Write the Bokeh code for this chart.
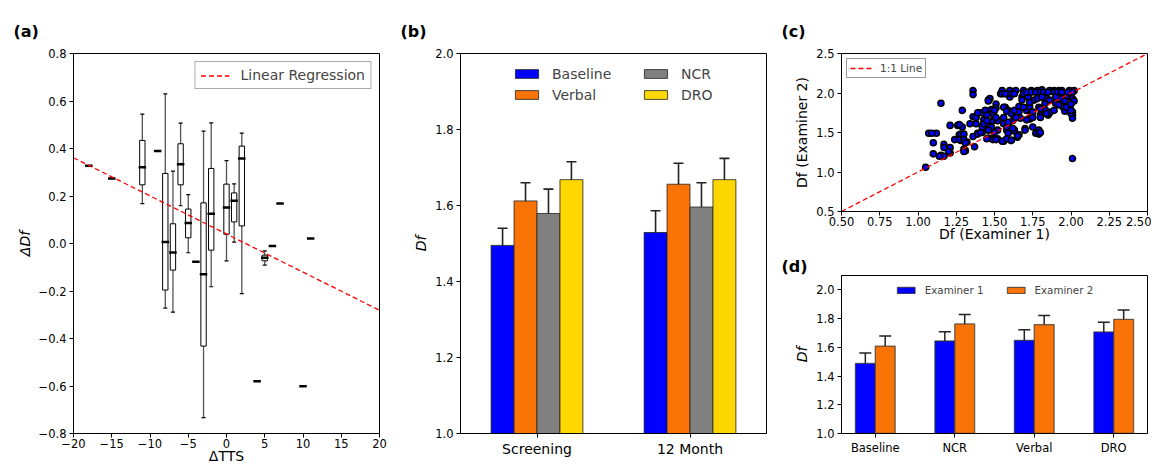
import numpy as np
from bokeh.plotting import figure
from bokeh.layouts import row, column
from bokeh.models import (FixedTicker, CustomJSTickFormatter, Range1d, Legend, LegendItem,
                          Whisker, TeeHead, ColumnDataSource)
from bokeh.embed import file_html
from bokeh.resources import INLINE

FONT = "DejaVu Sans"

# ---------------- Panel (a): boxplots of change in D_f vs change in TTS
box_x = [-11, -8, -7, -6, -5, -3, -2, 0, 1, 2, 5]
box_lo = [0.168, -0.272, -0.289, 0.159, -0.039, -0.733, -0.182, -0.073, 0.006, -0.211, -0.091]
box_q1 = [0.247, -0.196, -0.112, 0.247, 0.024, -0.432, -0.028, 0.039, 0.091, 0.074, -0.073]
box_med = [0.321, 0.006, -0.038, 0.334, 0.086, -0.129, 0.125, 0.152, 0.180, 0.358, -0.060]
box_q3 = [0.434, 0.295, 0.083, 0.420, 0.145, 0.171, 0.316, 0.250, 0.213, 0.410, -0.049]
box_hi = [0.545, 0.630, 0.305, 0.507, 0.206, 0.473, 0.508, 0.349, 0.251, 0.465, -0.031]
single_x = [-18, -15, -9, -4, 4, 6, 7, 10, 11]
single_val = [0.327, 0.274, 0.390, -0.077, -0.580, -0.011, 0.168, -0.601, 0.021]
reg_slope = -0.01605
reg_intercept = 0.040
a_xlim = (-20, 20)
a_ylim = (-0.8, 0.8)
a_xticks = [-20, -15, -10, -5, 0, 5, 10, 15, 20]
a_yticks = [-0.8, -0.6, -0.4, -0.2, 0.0, 0.2, 0.4, 0.6, 0.8]

# ---------------- Panel (b): group means
b_groups = ["Screening", "12 Month"]
b_conditions = ["Baseline", "Verbal", "NCR", "DRO"]
b_colors = ["#0000ff", "#f97306", "#808080", "#ffd700"]
b_baseline = [1.495, 1.529]
b_verbal = [1.612, 1.656]
b_ncr = [1.579, 1.596]
b_dro = [1.668, 1.668]
b_baseline_err = [0.045, 0.057]
b_verbal_err = [0.048, 0.055]
b_ncr_err = [0.064, 0.064]
b_dro_err = [0.047, 0.056]
b_yticks = [1.0, 1.2, 1.4, 1.6, 1.8, 2.0]

# ---------------- Panel (c): examiner agreement
c_exam1 = [1.05, 1.07, 1.12, 1.10, 1.10, 1.15, 1.17, 1.17, 1.15, 1.17, 1.21, 1.21, 1.21, 1.24, 1.26,
           1.27, 1.29, 1.29, 1.28, 1.28, 1.30, 1.31, 1.32, 1.34, 1.36, 1.36, 1.36, 1.37, 1.36, 1.38,
           1.39, 1.40, 1.42, 1.42, 1.43, 1.43, 1.44, 1.45, 1.46, 1.47, 1.46, 1.46, 1.48, 1.48, 1.49,
           1.49, 1.50, 1.51, 1.51, 1.52, 1.52, 1.52, 1.54, 1.55, 1.56, 1.56, 1.57, 1.58, 1.59, 1.59,
           1.59, 1.60, 1.60, 1.61, 1.62, 1.62, 1.63, 1.64, 1.64, 1.65, 1.66, 1.66, 1.66, 1.67, 1.68,
           1.69, 1.69, 1.70, 1.71, 1.72, 1.73, 1.73, 1.74, 1.74, 1.76, 1.77, 1.78, 1.79, 1.79, 1.80,
           1.81, 1.81, 1.83, 1.83, 1.84, 1.85, 1.86, 1.86, 1.89, 1.90, 1.91, 1.92, 1.93, 1.94, 1.95,
           1.96, 1.97, 1.97, 1.99, 2.00, 2.01, 2.01, 2.01, 2.01, 2.01, 2.02, 2.02,
           1.09, 1.14, 1.20, 1.27, 1.28, 1.30, 1.27, 1.30, 1.31, 1.30, 1.38, 1.39, 1.39, 1.41, 1.42,
           1.43, 1.45, 1.46, 1.49, 1.50, 1.51, 1.45, 1.49, 1.51, 1.46, 1.50, 1.55, 1.57, 1.61, 1.63,
           1.56, 1.58, 1.61, 1.63, 1.64, 1.55, 1.58, 1.61, 1.63, 1.65, 1.56, 1.58, 1.59, 1.62, 1.71,
           1.74, 1.77, 1.80, 1.82, 1.85, 1.89, 1.91, 1.94, 1.98, 2.01, 1.68, 1.73, 1.78, 1.81, 1.86,
           1.90, 1.92, 1.96, 2.00, 1.69, 1.75, 1.80, 1.86, 1.89, 1.71, 1.75, 1.80, 1.84, 1.70, 1.75,
           1.79, 1.80, 2.00, 2.00]
c_exam2 = [1.06, 1.49, 1.49, 1.37, 1.23, 1.87, 1.35, 1.31, 1.21, 1.20, 1.59, 1.31, 1.24, 1.41, 1.59,
           1.47, 1.78, 1.57, 1.46, 1.40, 1.29, 1.27, 1.38, 1.61, 1.70, 2.03, 1.98, 1.32, 1.45, 1.61,
           1.49, 1.75, 1.75, 1.50, 1.66, 1.57, 1.78, 1.72, 1.91, 1.93, 1.61, 1.43, 1.79, 1.57, 1.65,
           1.43, 1.70, 1.86, 1.81, 1.53, 1.65, 1.42, 1.99, 2.03, 1.69, 1.39, 1.82, 1.53, 1.49, 1.60,
           1.78, 2.03, 1.95, 1.40, 1.65, 1.75, 1.53, 2.03, 1.69, 1.44, 1.83, 1.76, 1.47, 1.68, 1.95,
           2.03, 1.99, 1.55, 1.78, 1.95, 1.67, 1.83, 2.03, 1.75, 1.91, 1.49, 2.03, 1.53, 1.82, 1.72,
           2.04, 1.95, 1.87, 1.79, 1.93, 1.72, 2.03, 1.75, 2.03, 1.87, 1.99, 2.03, 1.93, 2.03, 1.82,
           1.77, 1.82, 1.95, 2.03, 1.99, 1.93, 1.76, 1.72, 1.68, 1.17, 2.03, 1.90,
           1.49, 1.20, 1.26, 1.60, 1.48, 1.48, 1.41, 1.41, 1.37, 1.26, 1.69, 1.75, 1.48, 1.50, 1.57,
           1.61, 1.65, 1.90, 1.74, 1.78, 1.69, 1.42, 1.41, 1.41, 1.53, 1.50, 1.99, 1.99, 1.99, 1.99,
           1.82, 1.77, 1.74, 1.78, 1.69, 1.39, 1.42, 1.40, 1.52, 1.46, 1.61, 1.57, 1.63, 1.55, 2.01,
           2.01, 2.01, 2.01, 2.01, 2.01, 2.01, 2.01, 2.01, 2.01, 2.01, 1.91, 1.88, 1.93, 1.95, 1.91,
           1.95, 1.85, 1.90, 1.86, 1.82, 1.76, 1.80, 1.76, 1.78, 1.66, 1.69, 1.69, 1.74, 1.53, 1.57,
           1.48, 1.50, 1.74, 1.78]
c_lim = (0.5, 2.5)
c_xticks = [0.5, 0.75, 1.0, 1.25, 1.5, 1.75, 2.0, 2.25, 2.5]
c_yticks = [0.5, 1.0, 1.5, 2.0, 2.5]

# ---------------- Panel (d): examiner means by condition
d_categories = ["Baseline", "NCR", "Verbal", "DRO"]
d_examiners = ["Examiner 1", "Examiner 2"]
d_colors = ["#0000ff", "#f97306"]
d_exam1 = [1.488, 1.644, 1.649, 1.707]
d_exam1_err = [0.072, 0.065, 0.073, 0.067]
d_exam2 = [1.609, 1.763, 1.758, 1.795]
d_exam2_err = [0.069, 0.066, 0.063, 0.065]
d_yticks = [1.0, 1.2, 1.4, 1.6, 1.8, 2.0]


def fmt(dec):
    return CustomJSTickFormatter(code="return tick.toFixed(%d).replace('-', '\\u2212');" % dec)


def cat_fmt(labels):
    return CustomJSTickFormatter(args=dict(labels=labels), code="return labels[Math.round(tick)];")


def style(p, tick_size="11.5px", label_size="14px", title_standoff=20):
    p.background_fill_color = "white"
    p.border_fill_color = "white"
    p.outline_line_color = "black"
    p.outline_line_width = 1
    p.outline_line_alpha = 1
    p.xgrid.visible = False
    p.ygrid.visible = False
    for ax in p.axis:
        ax.axis_line_color = "black"
        ax.major_tick_line_color = "black"
        ax.major_tick_out = 4
        ax.major_tick_in = 0
        ax.minor_tick_line_color = None
        ax.major_label_text_font = FONT
        ax.major_label_text_font_size = tick_size
        ax.major_label_text_color = "black"
        ax.axis_label_text_font = FONT
        ax.axis_label_text_font_size = label_size
        ax.axis_label_text_font_style = "normal"
        ax.axis_label_text_color = "black"
        ax.major_label_standoff = 3
        ax.axis_label_standoff = 3
    p.title.text_font = FONT
    p.title.text_font_style = "bold"
    p.title.text_font_size = "16px"
    p.title.align = "left"
    p.title.offset = -60
    p.title.standoff = title_standoff
    p.title.text_color = "black"


# ================= (a)
pa = figure(width=400, height=466, x_range=Range1d(*a_xlim), y_range=Range1d(*a_ylim),
            output_backend="svg", toolbar_location=None, title="(a)",
            min_border_left=73, min_border_right=21, min_border_top=53, min_border_bottom=33)
style(pa, tick_size="11.5px", title_standoff=25)
pa.xaxis.ticker = FixedTicker(ticks=a_xticks)
pa.yaxis.ticker = FixedTicker(ticks=a_yticks)
pa.xaxis.formatter = fmt(0)
pa.yaxis.formatter = fmt(1)
pa.xaxis.axis_label = "ΔTTS"
pa.yaxis.axis_label = "ΔDf"
pa.yaxis.axis_label_text_font_style = "italic"
pa.xaxis.axis_label_standoff = -3
pa.xaxis.major_label_standoff = 1

pa.segment(x0=box_x, y0=box_lo, x1=box_x, y1=box_hi, line_color="#555555", line_width=1.3)
pa.vbar(x=box_x, bottom=box_q1, top=box_q3, width=0.7, fill_color="white",
        line_color="black", line_width=1)
pa.scatter(x=box_x, y=box_hi, marker="dash", size=4, line_color="black", line_width=1.2)
pa.scatter(x=box_x, y=box_lo, marker="dash", size=4, line_color="black", line_width=1.2)
pa.scatter(x=box_x, y=box_med, marker="dash", size=7.5, line_color="black", line_width=2.5)
pa.scatter(x=single_x, y=single_val, marker="dash", size=7.5, line_color="black", line_width=2.5)
reg_x = np.array(a_xlim, dtype=float)
pa.line(x=reg_x, y=reg_intercept + reg_slope * reg_x, line_color="red", line_width=1.3,
        line_dash="5 3", legend_label="Linear Regression")
pa.legend.location = "top_right"
pa.legend.margin = 8
pa.legend.padding = 5
pa.legend.spacing = 0
pa.legend.glyph_width = 29
pa.legend.glyph_height = 15
pa.legend.label_height = 15
pa.legend.label_standoff = 11
pa.legend.label_text_font = FONT
pa.legend.label_text_font_size = "14px"
pa.legend.border_line_color = "#555555"
pa.legend.border_line_width = 1
pa.legend.background_fill_color = "white"

# ================= (b)
pb = figure(width=370, height=466, x_range=Range1d(-0.5, 1.5), y_range=Range1d(1.0, 2.0),
            output_backend="svg", toolbar_location=None, title="(b)",
            min_border_left=60, min_border_right=4, min_border_top=53, min_border_bottom=33)
style(pb, tick_size="11.5px", title_standoff=25)
pb.xaxis.ticker = FixedTicker(ticks=list(range(len(b_groups))))
pb.xaxis.formatter = cat_fmt(b_groups)
pb.xaxis.major_label_text_font_size = "14px"
pb.yaxis.ticker = FixedTicker(ticks=b_yticks)
pb.yaxis.formatter = fmt(1)
pb.yaxis.axis_label = "Df"
pb.yaxis.axis_label_text_font_style = "italic"

b_vals = [b_baseline, b_verbal, b_ncr, b_dro]
b_errs = [b_baseline_err, b_verbal_err, b_ncr_err, b_dro_err]
b_w = 0.15
b_items = []
for j, (name, col, vals, errs) in enumerate(zip(b_conditions, b_colors, b_vals, b_errs)):
    xs = np.arange(len(b_groups)) + (j - 1.5) * b_w
    src = ColumnDataSource(dict(x=xs, top=vals, up=np.array(vals) + np.array(errs),
                                lo=np.array(vals) - np.array(errs)))
    r = pb.vbar(x="x", top="top", bottom=1.0, width=b_w, source=src, fill_color=col,
                line_color="#222222", line_alpha=0.8, line_width=1)
    pb.add_layout(Whisker(base="x", upper="up", lower="lo", source=src, line_color="#222222",
                          line_width=1.6,
                          upper_head=TeeHead(size=10, line_color="#222222", line_width=1.6),
                          lower_head=TeeHead(size=10, line_color="#222222", line_width=1.6)))
    b_items.append(LegendItem(label=name, renderers=[r]))


def mk_legend(items, loc):
    lg = Legend(items=items, location=loc, orientation="vertical", padding=0, margin=0,
                spacing=4, glyph_width=29, glyph_height=11, label_height=17, label_standoff=11,
                label_text_font=FONT, label_text_font_size="14px", border_line_alpha=0,
                background_fill_alpha=0)
    return lg


lg_h = 2 * 17 + 4
pb.add_layout(mk_legend([b_items[0], b_items[1]], (52, 380 - lg_h - 12)))
pb.add_layout(mk_legend([b_items[2], b_items[3]], (181, 380 - lg_h - 12)))

# ================= (c)
pc = figure(width=381, height=245, x_range=Range1d(*c_lim), y_range=Range1d(*c_lim),
            output_backend="svg", toolbar_location=None, title="(c)",
            min_border_left=71, min_border_right=4, min_border_top=53, min_border_bottom=34)
style(pc, tick_size="11.5px", title_standoff=25)
pc.xaxis.ticker = FixedTicker(ticks=c_xticks)
pc.yaxis.ticker = FixedTicker(ticks=c_yticks)
pc.xaxis.formatter = fmt(2)
pc.yaxis.formatter = fmt(1)
pc.xaxis.axis_label = "Df (Examiner 1)"
pc.yaxis.axis_label = "Df (Examiner 2)"
pc.xaxis.axis_label_standoff = -3
pc.xaxis.major_label_standoff = 1
pc.scatter(x=c_exam1, y=c_exam2, size=6, fill_color="#0000ff", line_color="black",
           line_width=1.6)
one = np.array(c_lim, dtype=float)
pc.line(x=one, y=one, line_color="red", line_width=1.3, line_dash="5 3",
        legend_label="1:1 Line")
pc.legend.location = "top_left"
pc.legend.margin = 5
pc.legend.padding = 3
pc.legend.spacing = 0
pc.legend.glyph_width = 22
pc.legend.glyph_height = 12
pc.legend.label_height = 12
pc.legend.label_standoff = 8
pc.legend.label_text_font = FONT
pc.legend.label_text_font_size = "10.5px"
pc.legend.border_line_color = "#333333"
pc.legend.border_line_width = 1
pc.legend.background_fill_color = "white"

# ================= (d)
pd = figure(width=381, height=221, x_range=Range1d(-0.425, 3.425), y_range=Range1d(1.0, 2.1),
            output_backend="svg", toolbar_location=None, title="(d)",
            min_border_left=71, min_border_right=4, min_border_top=30, min_border_bottom=33)
style(pd, tick_size="11.5px", title_standoff=0)
pd.xaxis.ticker = FixedTicker(ticks=list(range(len(d_categories))))
pd.xaxis.formatter = cat_fmt(d_categories)
pd.yaxis.ticker = FixedTicker(ticks=d_yticks)
pd.yaxis.formatter = fmt(1)
pd.yaxis.axis_label = "Df"
pd.yaxis.axis_label_text_font_style = "italic"

d_w = 0.25
d_items = []
for j, (name, col, vals, errs) in enumerate(zip(d_examiners, d_colors, [d_exam1, d_exam2],
                                                [d_exam1_err, d_exam2_err])):
    xs = np.arange(len(d_categories)) + (j - 0.5) * d_w
    src = ColumnDataSource(dict(x=xs, top=vals, up=np.array(vals) + np.array(errs),
                                lo=np.array(vals) - np.array(errs)))
    r = pd.vbar(x="x", top="top", bottom=1.0, width=d_w, source=src, fill_color=col,
                line_color="#333333", line_alpha=0.7, line_width=1.3)
    pd.add_layout(Whisker(base="x", upper="up", lower="lo", source=src, line_color="#222222",
                          line_width=1.5,
                          upper_head=TeeHead(size=12, line_color="#222222", line_width=1.5),
                          lower_head=TeeHead(size=12, line_color="#222222", line_width=1.5)))
    d_items.append(LegendItem(label=name, renderers=[r]))
pd.add_layout(Legend(items=d_items, location="top_center", orientation="horizontal", padding=0,
                     margin=9, spacing=21, glyph_width=22, glyph_height=8, label_height=12,
                     label_standoff=8, label_text_font=FONT, label_text_font_size="10.3px",
                     border_line_alpha=0, background_fill_alpha=0))

layout = row(pa, pb, column(pc, pd))
open("out.html", "w", encoding="utf-8").write(file_html(layout, INLINE))
